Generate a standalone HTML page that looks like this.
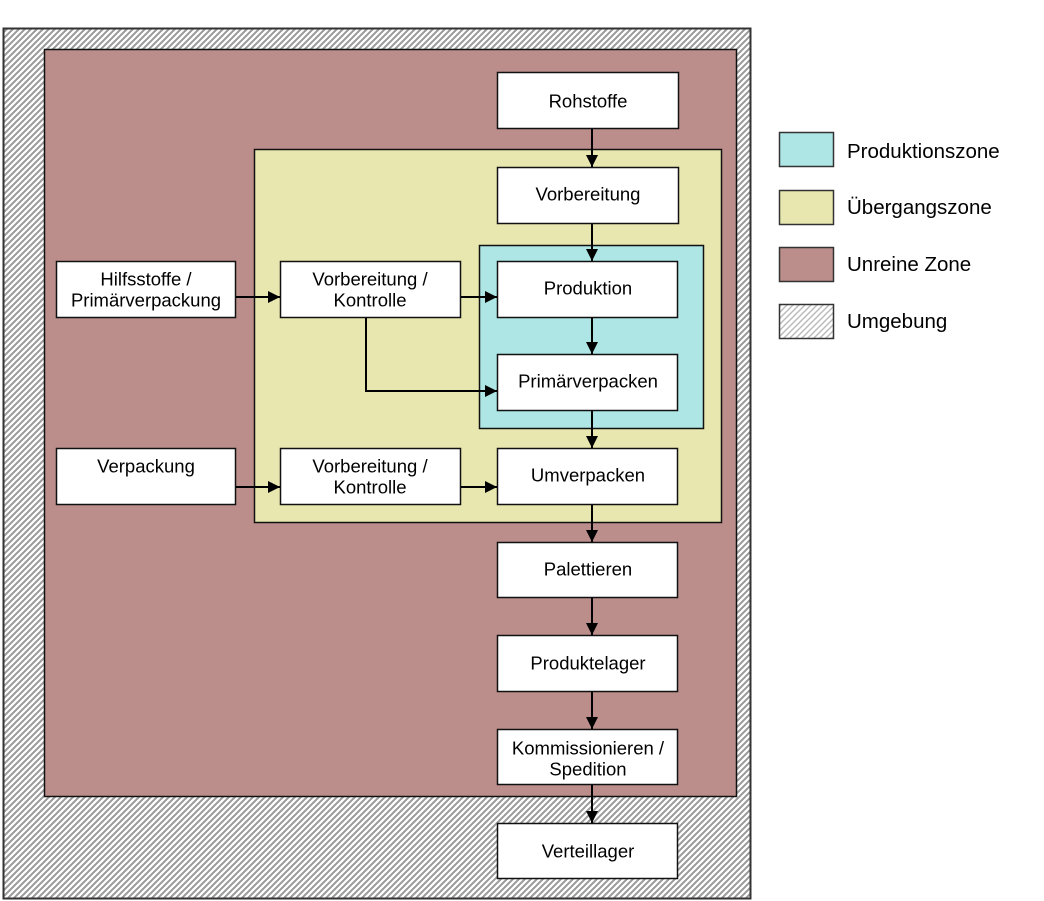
<!DOCTYPE html>
<html><head><meta charset="utf-8"><style>
html,body{margin:0;padding:0;background:#fff}
svg{display:block}
text{font-family:"Liberation Sans",Arial,sans-serif;font-size:18.5px;fill:#000}
.l{font-size:20.5px}
</style></head><body>
<svg width="1044" height="901" viewBox="0 0 1044 901" xmlns="http://www.w3.org/2000/svg">
<defs>
<pattern id="h" width="6" height="6" patternUnits="userSpaceOnUse">
<rect width="6" height="6" fill="#fff"/>
<path d="M-1,7 L7,-1 M-1,1 L1,-1 M5,7 L7,5" stroke="#999" stroke-width="2"/>
</pattern>
<pattern id="h2" width="6" height="6" patternUnits="userSpaceOnUse">
<rect width="6" height="6" fill="#fff"/>
<path d="M-1,7 L7,-1 M-1,1 L1,-1 M5,7 L7,5" stroke="#bbb" stroke-width="1.5"/>
</pattern>
<marker id="a" viewBox="0 0 10 10" refX="10" refY="5" markerWidth="12" markerHeight="12" markerUnits="userSpaceOnUse" orient="auto">
<path d="M0,0 L10,5 L0,10 z" fill="#000"/>
</marker>
</defs>
<rect x="3.5" y="28.5" width="747" height="870" fill="url(#h)" stroke="#333" stroke-width="2"/>
<rect x="44.5" y="49.5" width="692" height="747" fill="#bb8d8b" stroke="#111" stroke-width="1.5"/>
<rect x="254.5" y="149.5" width="467" height="373" fill="#e8e7b0" stroke="#111" stroke-width="1.5"/>
<rect x="479.5" y="245.5" width="224" height="183" fill="#aee6e6" stroke="#111" stroke-width="1.5"/>
<g fill="#fff" stroke="#111" stroke-width="1.5">
<rect x="497.5" y="72.5" width="181" height="56"/>
<rect x="497.5" y="167.5" width="181" height="56"/>
<rect x="497.5" y="261.5" width="180" height="56"/>
<rect x="497.5" y="354.5" width="180" height="56"/>
<rect x="497.5" y="448.5" width="180" height="56"/>
<rect x="497.5" y="542.5" width="180" height="55"/>
<rect x="497.5" y="635.5" width="180" height="56"/>
<rect x="497.5" y="729.5" width="180" height="55"/>
<rect x="497.5" y="823.5" width="180" height="55"/>
<rect x="56.5" y="261.5" width="179" height="56"/>
<rect x="56.5" y="448.5" width="179" height="56"/>
<rect x="280.5" y="261.5" width="180" height="56"/>
<rect x="280.5" y="448.5" width="180" height="56"/>
</g>
<g stroke="#000" stroke-width="2" fill="none" marker-end="url(#a)">
<line x1="592" y1="129" x2="592" y2="167"/>
<line x1="592" y1="224" x2="592" y2="261"/>
<line x1="592" y1="318" x2="592" y2="354"/>
<line x1="592" y1="411" x2="592" y2="448"/>
<line x1="592" y1="505" x2="592" y2="542"/>
<line x1="592" y1="598" x2="592" y2="635"/>
<line x1="592" y1="692" x2="592" y2="729"/>
<line x1="592" y1="785" x2="592" y2="823"/>
<line x1="236" y1="297" x2="280" y2="297"/>
<line x1="461" y1="297" x2="497" y2="297"/>
<line x1="236" y1="487" x2="280" y2="487"/>
<line x1="461" y1="487" x2="497" y2="487"/>
<polyline points="366,318 366,391 497,391"/>
</g>
<g text-anchor="middle">
<text x="588" y="107.5">Rohstoffe</text>
<text x="588" y="200.5">Vorbereitung</text>
<text x="588" y="294.5">Produktion</text>
<text x="588" y="387.5">Primärverpacken</text>
<text x="588" y="481.5">Umverpacken</text>
<text x="588" y="575.5">Palettieren</text>
<text x="588" y="669.5">Produktelager</text>
<text x="588" y="754.5">Kommissionieren /</text>
<text x="588" y="775.5">Spedition</text>
<text x="588" y="857.5">Verteillager</text>
<text x="146" y="285.5">Hilfsstoffe /</text>
<text x="146" y="306.5">Primärverpackung</text>
<text x="146" y="472.5">Verpackung</text>
<text x="370" y="285.5">Vorbereitung /</text>
<text x="370" y="306.5">Kontrolle</text>
<text x="370" y="472.5">Vorbereitung /</text>
<text x="370" y="493.5">Kontrolle</text>
</g>
<g stroke="#333" stroke-width="1.5">
<rect x="779.5" y="132.5" width="54" height="34" fill="#aee6e6"/>
<rect x="779.5" y="190.5" width="54" height="34" fill="#e8e7b0"/>
<rect x="779.5" y="247.5" width="54" height="34" fill="#bb8d8b"/>
<rect x="779.5" y="304.5" width="54" height="34" fill="url(#h2)"/>
</g>
<text class="l" x="847" y="158">Produktionszone</text>
<text class="l" x="847" y="214">Übergangszone</text>
<text class="l" x="847" y="271">Unreine Zone</text>
<text class="l" x="847" y="328">Umgebung</text>
</svg>
</body></html>
